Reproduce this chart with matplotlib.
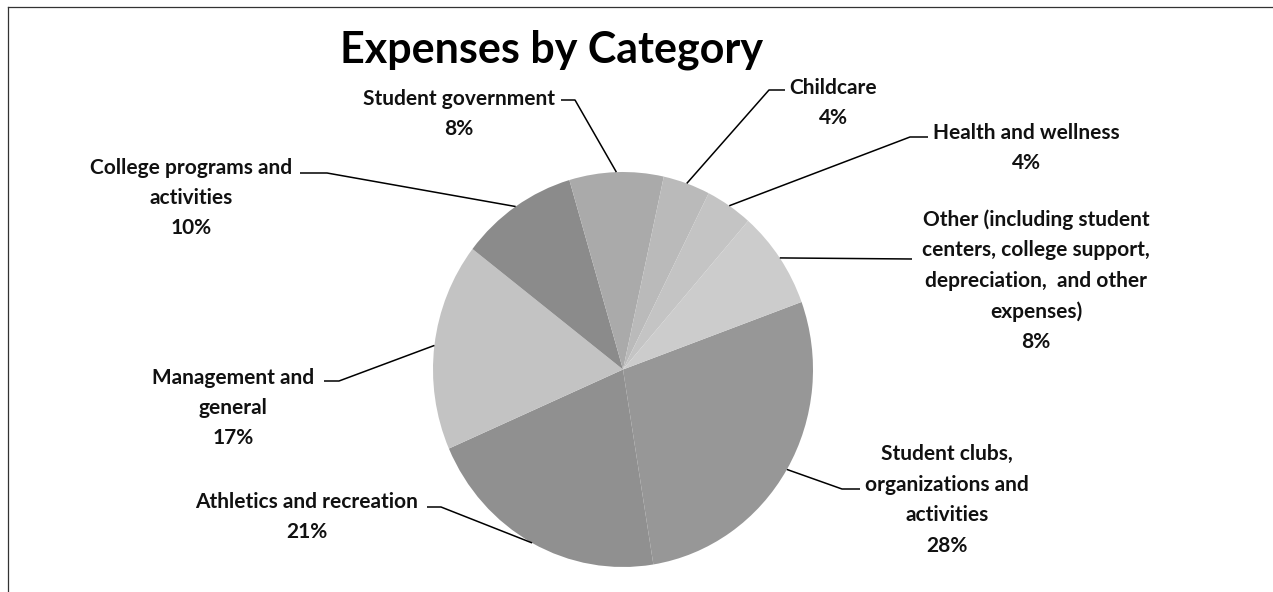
import numpy as np
import matplotlib
matplotlib.use("Agg")
import matplotlib.pyplot as plt

# slices in drawing order (clockwise, starting at 20 degrees)
categories = [
    "Student clubs,\norganizations and\nactivities",
    "Athletics and recreation",
    "Management and\ngeneral",
    "College programs and\nactivities",
    "Student government",
    "Childcare",
    "Health and wellness",
    "Other (including student\ncenters, college support,\ndepreciation,  and other\nexpenses)",
]
shares = [28, 21, 17, 10, 8, 4, 4, 8]
grays = ["#979797", "#909090", "#c3c3c3", "#8b8b8b", "#aaaaaa", "#bababa", "#c4c4c4", "#cccccc"]

# label block centres (pixels) and the knee of each leader line
label_xy = [(947, 499), (307, 516), (233, 407), (191, 197),
            (459, 113), (833, 102), (1026, 147), (1036, 280)]
knee_xy = [[(860, 489), (842, 489)], [(427, 507), (441, 507)],
           [(324, 381), (339, 381)], [(300, 173), (327, 173)],
           [(561, 100), (575, 100)], [(785, 90), (769, 90)],
           [(928, 137), (910, 137)], [(912, 259)]]

W, H = 1273, 592
fig = plt.figure(figsize=(W / 100, H / 100), dpi=100)
fig.patch.set_facecolor("white")

# pie sits in its own axes (scan is slightly taller than wide)
cx, cy, rx, ry = 623, 369.5, 190, 197.5
ax_pie = fig.add_axes([(cx - rx) / W, (H - cy - ry) / H, 2 * rx / W, 2 * ry / H])
wedges, _ = ax_pie.pie(shares, colors=grays, startangle=20, counterclock=False,
                       radius=1, wedgeprops=dict(linewidth=0))
ax_pie.set_xlim(-1, 1)
ax_pie.set_ylim(-1, 1)
ax_pie.set_aspect("auto")
ax_pie.axis("off")

# overlay in pixel coordinates for title, labels and leader lines
ax = fig.add_axes([0, 0, 1, 1], zorder=3)
ax.set_xlim(0, W)
ax.set_ylim(H, 0)
ax.axis("off")
ax.patch.set_alpha(0)

ax.plot([8, W], [7, 7], color="#333333", lw=0.9)
ax.plot([8, 8], [7, H], color="#333333", lw=0.9)

font = "Lato"
ax.text(552, 63, "Expenses by Category", ha="center", va="baseline",
        fontsize=31, fontweight="bold", family=font, color="black")

line_gap = 30.5
for lab, share, (lx, ly), knee, w in zip(categories, shares, label_xy, knee_xy, wedges):
    lines = lab.split("\n") + [f"{share}%"]
    top = ly - line_gap * (len(lines) - 1) / 2
    for i, s in enumerate(lines):
        ax.text(lx, top + i * line_gap + 7, s, ha="center", va="baseline",
                fontsize=15, fontweight="bold", family=font, color="#111111")
    mid = np.deg2rad((w.theta1 + w.theta2) / 2)
    disp = ax_pie.transData.transform((np.cos(mid), np.sin(mid)))
    ex, ey = ax.transData.inverted().transform(disp)
    xs = [p[0] for p in knee] + [ex]
    ys = [p[1] for p in knee] + [ey]
    ax.plot(xs, ys, color="black", lw=1.1, solid_capstyle="butt")

fig.savefig("out.png", dpi=100)
